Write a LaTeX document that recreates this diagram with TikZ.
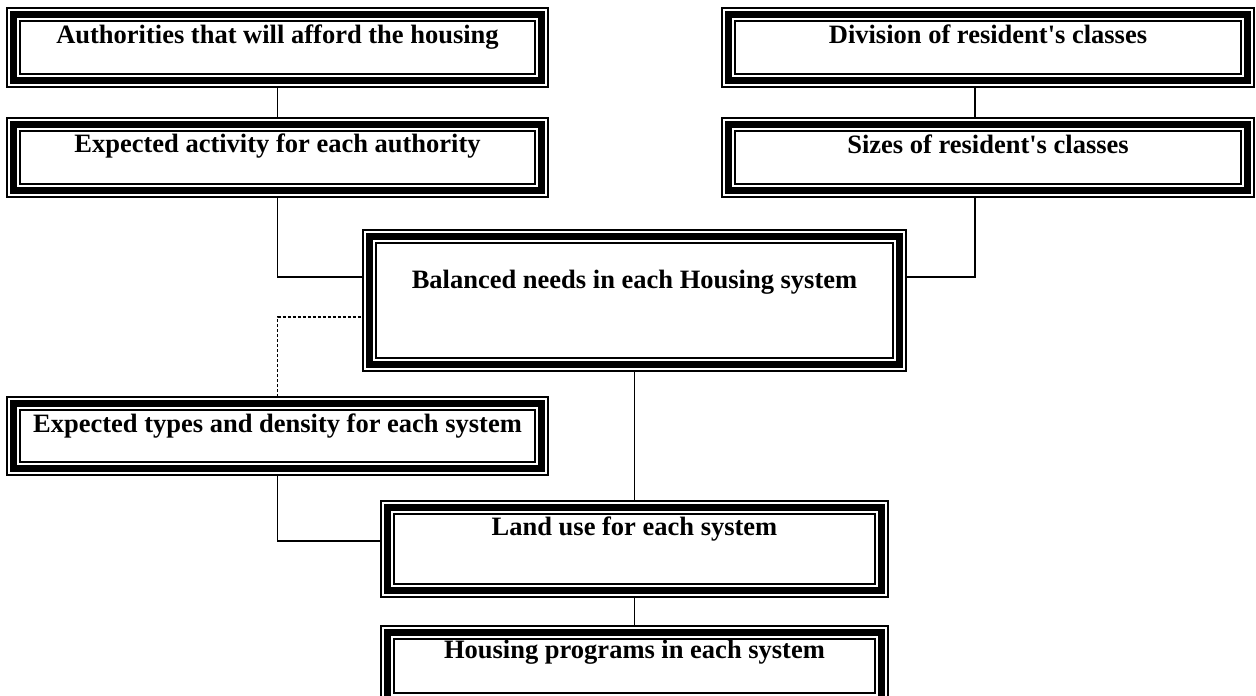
\documentclass[tikz,border=0pt]{standalone}
\usepackage{fontspec}
\setmainfont{Liberation Serif}
\begin{document}
\begin{tikzpicture}[x=1pt,y=-1pt,inner sep=0pt,font=\fontsize{26.5}{30}\selectfont\bfseries]
    \tikzstyle{frame}=[rectangle,outer sep=6.5pt,draw=black,line width=6.5pt,
        preaction={draw,line width=1.3pt,double=white,double distance=11.7pt}]
    \tikzstyle{link}=[line width=1.3pt]
    \useasboundingbox (0,0) rectangle (1256,696);

    \node[frame,minimum width=528,text height=28.5,text depth=37.5] (auth) at (277.5,47.5) {Authorities that will afford the housing};
    \node[frame,minimum width=519,text height=28.5,text depth=37.5] (divis) at (988,47.5) {Division of resident\textquotesingle s classes};
    \node[frame,minimum width=528,text height=27.5,text depth=38.5] (activ) at (277.5,157.5) {Expected activity for each authority};
    \node[frame,minimum width=519,text height=28.5,text depth=37.5] (sizes) at (988,157.5) {Sizes of resident\textquotesingle s classes};
    \node[frame,minimum width=530,text height=51.5,text depth=76.5] (balan) at (634.5,300.5) {Balanced needs in each Housing system};
    \node[frame,minimum width=528,text height=28.5,text depth=36.5] (types) at (277.5,436) {Expected types and density for each system};
    \node[frame,minimum width=494,text height=27.5,text depth=55.5] (landu) at (634.5,549) {Land use for each system};
    \node[frame,minimum width=494,text height=25.5,text depth=41.5] (progr) at (634.5,666) {Housing programs in each system};

    \draw[link] (auth) -- (activ);
    \draw[link] ([xshift=-13pt]divis.south) -- ([xshift=-13pt]sizes.north);
    \draw[link] (activ.south) |- ([yshift=23.5pt]balan.west);
    \draw[link] ([xshift=-13pt]sizes.south) |- ([yshift=23.5pt]balan.east);
    \draw[link,dash pattern=on 3pt off 2pt] (types.north) |- ([yshift=-16.5pt]balan.west);
    \draw[link] (balan) -- (landu);
    \draw[link] (types.south) |- ([yshift=8pt]landu.west);
    \draw[link] (landu) -- (progr);
\end{tikzpicture}
\end{document}
